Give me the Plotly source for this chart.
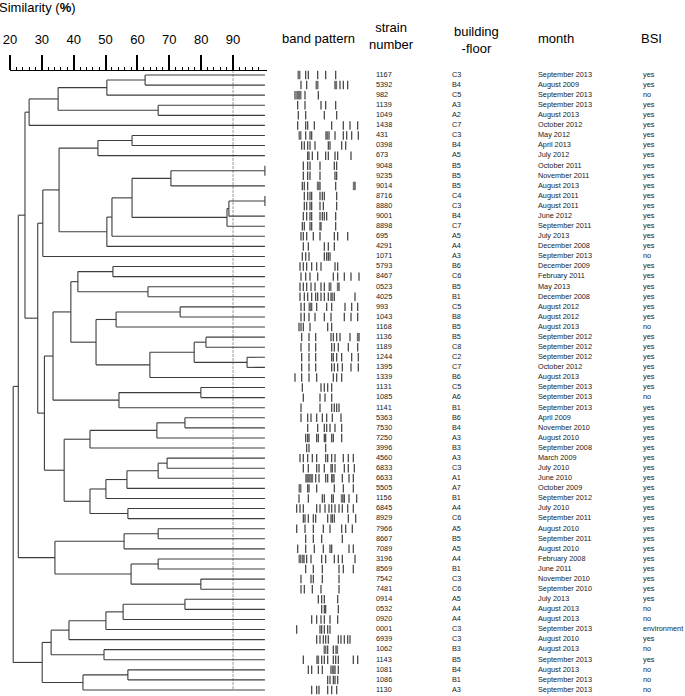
import plotly.graph_objects as go

W, H = 685, 696

# ---------------- data ----------------
strains = ["1167", "5392", "982", "1139", "1049", "1438", "431", "0398", "673", "9048",
           "9235", "9014", "8716", "8880", "9001", "8898", "695", "4291", "1071", "5793",
           "8467", "0523", "4025", "993", "1043", "1168", "1136", "1189", "1244", "1395",
           "1339", "1131", "1085", "1141", "5363", "7530", "7250", "3996", "4560", "6833",
           "6633", "5505", "1156", "6845", "8929", "7966", "8667", "7089", "3196", "8569",
           "7542", "7481", "0914", "0532", "0920", "0001", "6939", "1062", "1143", "1081",
           "1086", "1130"]

buildings = ["C3", "B4", "C5", "A3", "A2", "C7", "C3", "B4", "A5", "B5",
             "B5", "B5", "C4", "C3", "B4", "C7", "A5", "A4", "A3", "B6",
             "C6", "B5", "B1", "C5", "B8", "B5", "B5", "C8", "C2", "C7",
             "B6", "C5", "A6", "B1", "B6", "B4", "A3", "B3", "A3", "C3",
             "A1", "A7", "B1", "A4", "C6", "A5", "B5", "A5", "A4", "B1",
             "C3", "C6", "A5", "A4", "A4", "C3", "C3", "B3", "B5", "B4",
             "B1", "A3"]

months = ["September 2013", "August 2009", "September 2013", "September 2013", "August 2013",
          "October 2012", "May 2012", "April 2013", "July 2012", "October 2011",
          "November 2011", "August 2013", "August 2011", "August 2011", "June 2012",
          "September 2011", "July 2013", "December 2008", "September 2013", "December 2009",
          "February 2011", "May 2013", "December 2008", "August 2012", "August 2012",
          "August 2013", "September 2012", "September 2012", "September 2012", "October 2012",
          "August 2013", "September 2013", "September 2013", "September 2013", "April 2009",
          "November 2010", "August 2010", "September 2008", "March 2009", "July 2010",
          "June 2010", "October 2009", "September 2012", "July 2010", "September 2011",
          "August 2010", "September 2011", "August 2010", "February 2008", "June 2011",
          "November 2010", "September 2010", "July 2013", "August 2013", "August 2013",
          "September 2013", "August 2010", "August 2013", "September 2013", "August 2013",
          "September 2013", "September 2013"]

bsi = ["yes", "yes", "no", "yes", "yes", "yes", "yes", "yes", "yes", "yes",
       "yes", "yes", "yes", "yes", "yes", "yes", "yes", "yes", "no", "yes",
       "yes", "yes", "yes", "yes", "yes", "no", "yes", "yes", "yes", "yes",
       "yes", "yes", "no", "yes", "yes", "yes", "yes", "yes", "yes", "yes",
       "yes", "yes", "yes", "yes", "yes", "yes", "yes", "yes", "yes", "yes",
       "yes", "yes", "yes", "no", "no", "environment", "yes", "no", "yes", "no",
       "no", "no"]

# dendrogram: (left, right, similarity %) ; integers are row indices of strains
tree = (
    (
        (
            ((((0, 1, 62.4), 2, 50.4), (3, 4, 66.5), 35.1), 5, 26.0),
            (
                ((((6, 7, 58.3), 8, 47.6),
                  (((((9, 10, 100.0), 11, 70.5), (((12, 13, 100.0), 14, 88.7), 15, 88.1), 58.3), 16, 52.0), 17, 50.4),
                  35.4), 18, 30.3),
                (
                    ((((19, 20, 52.3), (21, 22, 63.3), 41.3),
                      (((23, 24, 73.4), 25, 53.3), (((26, 27, 81.5), (28, 29, 94.4), 77.8), 30, 63.9), 47.0),
                      39.1),
                     ((31, 32, 79.9), 33, 54.2), 33.5),
                    ((((34, 35, 74.9), 36, 66.1), 37, 45.1),
                     (((((38, 39, 69.3), 40, 66.5), 41, 56.7), 42, 50.1), (43, 44, 57.0), 45.1),
                     37.0),
                    30.8),
                28.7),
            24.7),
        ((((45, 46, 66.5), 47, 55.8), ((48, 49, 66.5), (50, 51, 79.9), 58.0), 34.1)),
        22.6),
    (
        ((((((52, 53, 74.9), 54, 55.5), 55, 50.1), 56, 38.5), (57, 58, 49.5), 32.9),
         ((59, 60, 57.0), 61, 42.9), 30.1)
    ),
    21.0)

cutoff = 90
sim_ticks = [20, 30, 40, 50, 60, 70, 80, 90]

# band positions (relative migration units) per strain row; heavy = broad/strong bands
bands = [
    [42, 62, 70, 98, 122, 152],
    [48, 65, 96, 152, 165, 175, 188],
    [30, 38, 45, 60, 100],
    [38, 60, 108, 122, 152],
    [40, 62, 118, 155],
    [38, 62, 68, 88, 140, 175, 195, 218],
    [45, 62, 75, 80, 125, 132, 150, 175, 185, 200, 220],
    [50, 58, 68, 75, 90, 130, 135, 170, 182],
    [68, 72, 82, 98, 122, 130, 150, 158, 198],
    [55, 68, 75, 105, 148, 155],
    [55, 68, 75, 105, 150, 155],
    [52, 58, 68, 100, 105, 152, 208],
    [58, 68, 75, 80, 105, 112, 118, 155],
    [58, 65, 75, 80, 105, 115, 155],
    [55, 65, 75, 80, 105, 112, 118, 125, 152],
    [52, 58, 75, 80, 105, 108, 152],
    [48, 55, 65, 85, 105, 148, 158, 188],
    [55, 70, 118, 130, 148],
    [52, 62, 72, 118, 125, 130, 135],
    [45, 55, 65, 80, 95, 108, 150, 158],
    [48, 62, 75, 98, 145, 158, 178, 198, 222],
    [45, 55, 65, 78, 90, 108, 118, 135, 160],
    [45, 58, 68, 80, 92, 98, 108, 118, 130, 140, 148, 210],
    [48, 58, 75, 80, 95, 125, 140, 180, 200, 218],
    [48, 58, 72, 90, 118, 138, 178, 198, 218],
    [42, 48, 55, 75, 128, 140],
    [50, 72, 92, 138, 145, 155, 165, 195, 220],
    [48, 72, 92, 140, 148, 160, 190, 218],
    [50, 72, 92, 140, 145, 155, 170, 200, 220],
    [50, 72, 92, 140, 148, 158, 172, 198, 220],
    [30, 50, 72, 95, 145, 155, 170],
    [52, 108, 118, 128, 140],
    [55, 105, 120, 140],
    [48, 105, 140, 148, 155, 162],
    [48, 68, 78, 95, 112, 125, 142, 168],
    [68, 98, 118, 125, 135, 150, 170],
    [62, 68, 72, 95, 100, 118, 122, 140, 145, 170],
    [65, 72, 122],
    [45, 55, 68, 82, 95, 122, 128, 140, 150, 175, 190, 205],
    [55, 70, 95, 102, 118, 138, 142, 150, 178, 190, 208],
    [65, 72, 80, 92, 102, 122, 128, 140, 145, 172, 192, 205],
    [45, 68, 72, 95, 148, 175, 205],
    [42, 70, 112, 118, 140, 145, 172, 178, 192, 215],
    [35, 45, 55, 95, 105, 120, 132, 140, 150, 162, 172, 188, 205],
    [55, 60, 70, 85, 92, 128, 138, 142, 148, 190, 212],
    [35, 60, 85, 115, 135, 170, 182, 202],
    [62, 85, 110, 172],
    [38, 62, 88, 115, 135, 140, 192, 205],
    [45, 55, 65, 78, 110, 122, 148, 160, 172, 210],
    [62, 85, 112, 162, 175, 205],
    [48, 78, 85, 112, 162],
    [48, 58, 82, 108, 162],
    [100, 110, 118, 158],
    [110, 118, 122, 160],
    [80, 95, 108, 118, 135, 158],
    [35, 105, 110, 118, 128, 135],
    [95, 105, 115, 122, 130, 160, 168, 178, 188, 195],
    [120, 128, 145, 155],
    [55, 98, 110, 118, 128, 145, 152, 160, 205, 218],
    [70, 80, 100, 112, 138, 145, 150, 160],
    [128, 135, 145, 150, 158],
    [80, 95, 102, 128, 140, 155],
]
heavy = [[42], [96, 152], [38, 45], [], [], [], [45, 125], [], [], [],
         [], [100, 208], [], [], [], [], [], [], [], [],
         [], [135, 160], [140], [75], [], [], [220], [], [], [],
         [], [], [], [], [], [], [], [], [], [],
         [65, 72, 80, 145], [45], [172], [], [], [], [], [], [45, 55], [],
         [], [], [], [], [], [], [], [120, 155], [98], [145],
         [], []]

# ---------------- geometry helpers (layout only) ----------------
ROW0_PX, ROW_PITCH = 75.0, (690.0 - 75.0) / 61
n = len(strains)
y_top = (0 - ROW0_PX) / ROW_PITCH
y_bot = (H - ROW0_PX) / ROW_PITCH


def row_of_px(py):
    return (py - ROW0_PX) / ROW_PITCH


FONT = "Liberation Sans, Arial, Helvetica, sans-serif"

# ---------------- dendrogram segments ----------------
seg_x, seg_y = [], []


def walk(node):
    if isinstance(node, int):
        return float(node), 100.0
    left, right, s = node
    yl, sl = walk(left)
    yr, sr = walk(right)
    seg_x.extend([s, s, None, s, sl, None, s, sr, None])
    seg_y.extend([yl, yr, None, yl, yl, None, yr, yr, None])
    return (yl + yr) / 2.0, s


walk(tree)

fig = go.Figure()

fig.add_trace(go.Scatter(x=[cutoff, cutoff], y=[row_of_px(70), row_of_px(690)], mode="lines",
                         line=dict(color="#9a9a9a", width=1, dash="3px,1px"),
                         hoverinfo="skip", showlegend=False, xaxis="x", yaxis="y"))
fig.add_trace(go.Scatter(x=seg_x, y=seg_y, mode="lines",
                         line=dict(color="#3c3c3c", width=1.1),
                         hoverinfo="skip", showlegend=False, xaxis="x", yaxis="y"))

# ---------------- band pattern ----------------
bx, by, hx, hy = [], [], [], []
for i, row in enumerate(bands):
    for b in row:
        if b in heavy[i]:
            hx.extend([b, b, None]); hy.extend([i - 0.42, i + 0.42, None])
        else:
            bx.extend([b, b, None]); by.extend([i - 0.42, i + 0.42, None])
fig.add_trace(go.Scatter(x=bx, y=by, mode="lines", line=dict(color="#4a4a4a", width=1.3),
                         hoverinfo="skip", showlegend=False, xaxis="x2", yaxis="y"))
fig.add_trace(go.Scatter(x=hx, y=hy, mode="lines", line=dict(color="#707070", width=3),
                         hoverinfo="skip", showlegend=False, xaxis="x2", yaxis="y"))

# ---------------- table columns ----------------
rows = list(range(n))
col_px = {"strain": 376, "building": 452, "month": 538, "bsi": 643}
for key, vals in [("strain", strains), ("building", buildings), ("month", months), ("bsi", bsi)]:
    fig.add_trace(go.Scatter(x=[col_px[key]] * n, y=rows, mode="text", text=vals,
                             textposition="middle right",
                             textfont=dict(family=FONT, size=7.3, color="#1a1a1a"),
                             hoverinfo="skip", showlegend=False, xaxis="x3", yaxis="y"))

# ---------------- headers ----------------
def ann(text, px, py, xanchor="center"):
    return dict(text=text, x=px / W, y=1 - py / H, xref="paper", yref="paper",
                xanchor=xanchor, yanchor="middle", showarrow=False,
                font=dict(family=FONT, size=13, color="black"))


annotations = [
    ann("Similarity (<b>%</b>)", -3, 8, "left"),
    ann("band pattern", 318, 38),
    ann("strain<br>number", 391, 36),
    ann("building<br>-floor", 476, 40),
    ann("month", 556, 38),
    ann("BSI", 651, 38),
]

minor_vals = [v for v in range(22, 101, 2) if v % 10 != 0]

fig.update_layout(
    width=W, height=H, autosize=False,
    margin=dict(l=0, r=0, t=0, b=0, pad=0, autoexpand=False),
    paper_bgcolor="white", plot_bgcolor="rgba(0,0,0,0)",
    showlegend=False,
    annotations=annotations,
    xaxis=dict(domain=[10 / W, 266.5 / W], range=[20, 100.5], anchor="free",
               position=1 - 70 / H, side="top", showline=True, linecolor="black",
               linewidth=1.3, ticks="outside", ticklen=15, tickwidth=1.5, tickcolor="black",
               tickvals=sim_ticks, ticktext=[str(v) for v in sim_ticks],
               tickfont=dict(family=FONT, size=13, color="black"), ticklabelstandoff=6,
               minor=dict(tickvals=minor_vals, ticks="outside", ticklen=2.5,
                          tickcolor="black", tickwidth=0.8, showgrid=False),
               showgrid=False, zeroline=False, fixedrange=True, automargin=False),
    xaxis2=dict(domain=[285 / W, 365 / W], range=[0, 240], anchor="y", visible=False,
                fixedrange=True, automargin=False),
    xaxis3=dict(domain=[0, 1], range=[0, W], anchor="y", visible=False, fixedrange=True,
                automargin=False),
    yaxis=dict(domain=[0, 1], range=[y_bot, y_top], visible=False, fixedrange=True,
               automargin=False),
)

fig.write_html("out.html", post_script="document.body.style.margin='0';document.body.style.padding='0';",
               config={"displayModeBar": False})
